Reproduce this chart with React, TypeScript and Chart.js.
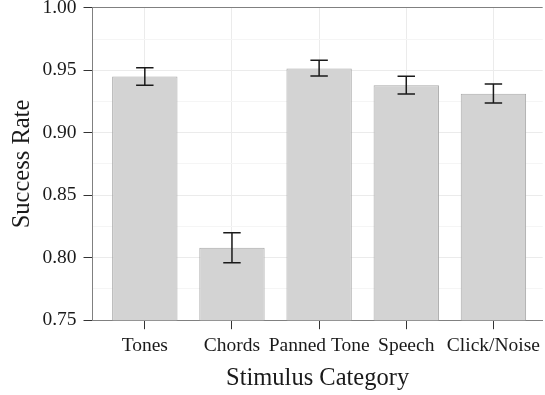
import React, { useEffect, useRef } from 'react';
import { Chart, registerables } from 'chart.js';

Chart.register(...registerables);

// ---- data ----
const categories = ['Tones', 'Chords', 'Panned Tone', 'Speech', 'Click/Noise'];
const successRate = [0.945, 0.808, 0.9515, 0.938, 0.9313];
const errorLow = [0.938, 0.796, 0.9455, 0.931, 0.9238];
const errorHigh = [0.952, 0.82, 0.958, 0.9453, 0.939];
const yTicks = [0.75, 0.775, 0.8, 0.825, 0.85, 0.875, 0.9, 0.925, 0.95, 0.975, 1.0];
const yMajorTicks = [0.75, 0.8, 0.85, 0.9, 0.95, 1.0];
const xTitle = 'Stimulus Category';
const yTitle = 'Success Rate';

const FONT = "'Liberation Serif', 'Times New Roman', serif";
const capWidth = 0.2;

const isMajor = (v: number) => yMajorTicks.some((m) => Math.abs(m - v) < 1e-9);

const errorBarPlugin = {
  id: 'errorBars',
  afterDatasetsDraw(chart: any) {
    const { ctx } = chart;
    const x = chart.scales.x;
    const y = chart.scales.y;
    ctx.save();
    ctx.strokeStyle = '#1a1a1a';
    ctx.lineWidth = 1.5;
    categories.forEach((_, i) => {
      const cx = x.getPixelForValue(i);
      const x0 = x.getPixelForValue(i - capWidth / 2);
      const x1 = x.getPixelForValue(i + capWidth / 2);
      const yl = y.getPixelForValue(errorLow[i]);
      const yh = y.getPixelForValue(errorHigh[i]);
      ctx.beginPath();
      ctx.moveTo(cx, yl);
      ctx.lineTo(cx, yh);
      ctx.moveTo(x0, yl);
      ctx.lineTo(x1, yl);
      ctx.moveTo(x0, yh);
      ctx.lineTo(x1, yh);
      ctx.stroke();
    });
    ctx.restore();
  },
};

export default function App() {
  const canvasRef = useRef<HTMLCanvasElement | null>(null);

  useEffect(() => {
    document.body.style.margin = '0';
    const canvas = canvasRef.current;
    if (!canvas) return;
    const chart = new Chart(canvas, {
      type: 'bar',
      data: {
        datasets: [
          {
            data: categories.map((_, i) => ({ x: i, y: successRate[i] })),
            backgroundColor: '#d3d3d3',
            borderColor: '#a9a9a9',
            borderWidth: 1,
            borderSkipped: false,
            barPercentage: 0.75,
            categoryPercentage: 1,
          },
        ],
      },
      options: {
        responsive: false,
        animation: false,
        devicePixelRatio: 1,
        layout: { padding: { left: 0, right: 0, top: 0, bottom: 0 } },
        plugins: {
          legend: { display: false },
          tooltip: { enabled: false },
        },
        scales: {
          x: {
            type: 'linear',
            min: -0.6,
            max: 4.565,
            offset: false,
            afterBuildTicks: (s: any) => {
              s.ticks = categories.map((_, i) => ({ value: i }));
            },
            ticks: {
              autoSkip: false,
              maxRotation: 0,
              minRotation: 0,
              padding: 5,
              color: '#1a1a1a',
              font: { family: FONT, size: 19.5, lineHeight: 1.2 },
              callback: (v: any) => categories[Math.round(Number(v))] ?? '',
            },
            grid: {
              offset: false,
              color: '#ebebeb',
              lineWidth: 1,
              tickColor: '#333333',
              tickLength: 9,
              drawTicks: true,
            },
            border: { display: true, color: '#808080', width: 1 },
            title: {
              display: true,
              text: xTitle,
              color: '#1a1a1a',
              font: { family: FONT, size: 24.5, lineHeight: 1.2 },
              padding: { top: 1, bottom: 2 },
            },
          },
          y: {
            type: 'linear',
            min: 0.75,
            max: 1.0,
            afterBuildTicks: (s: any) => {
              s.ticks = yTicks.map((v) => ({ value: v }));
            },
            ticks: {
              padding: 7,
              color: '#1a1a1a',
              font: { family: FONT, size: 19.5, lineHeight: 0.08 },
              callback: (v: any) => (isMajor(Number(v)) ? Number(v).toFixed(2) : ''),
            },
            grid: {
              color: (ctx: any) => {
                const v = ctx.tick ? ctx.tick.value : 0;
                if (Math.abs(v - 1.0) < 1e-9) return '#808080';
                return isMajor(v) ? '#ebebeb' : '#f5f5f5';
              },
              lineWidth: 1,
              tickColor: (ctx: any) => {
                const v = ctx.tick ? ctx.tick.value : 0;
                return isMajor(v) ? '#333333' : 'rgba(0,0,0,0)';
              },
              tickLength: 9,
            },
            border: { display: true, color: '#808080', width: 1 },
            title: {
              display: true,
              text: yTitle,
              color: '#1a1a1a',
              font: { family: FONT, size: 24.5, lineHeight: 1.2 },
              padding: { top: 8, bottom: -2 },
            },
          },
        },
      },
      plugins: [errorBarPlugin],
    } as any);
    return () => chart.destroy();
  }, []);

  return (
    <div style={{ position: 'absolute', left: 0, top: 0, width: 545, height: 395 }}>
      <canvas ref={canvasRef} width={545} height={395} style={{ display: 'block', width: 545, height: 395 }} />
    </div>
  );
}
